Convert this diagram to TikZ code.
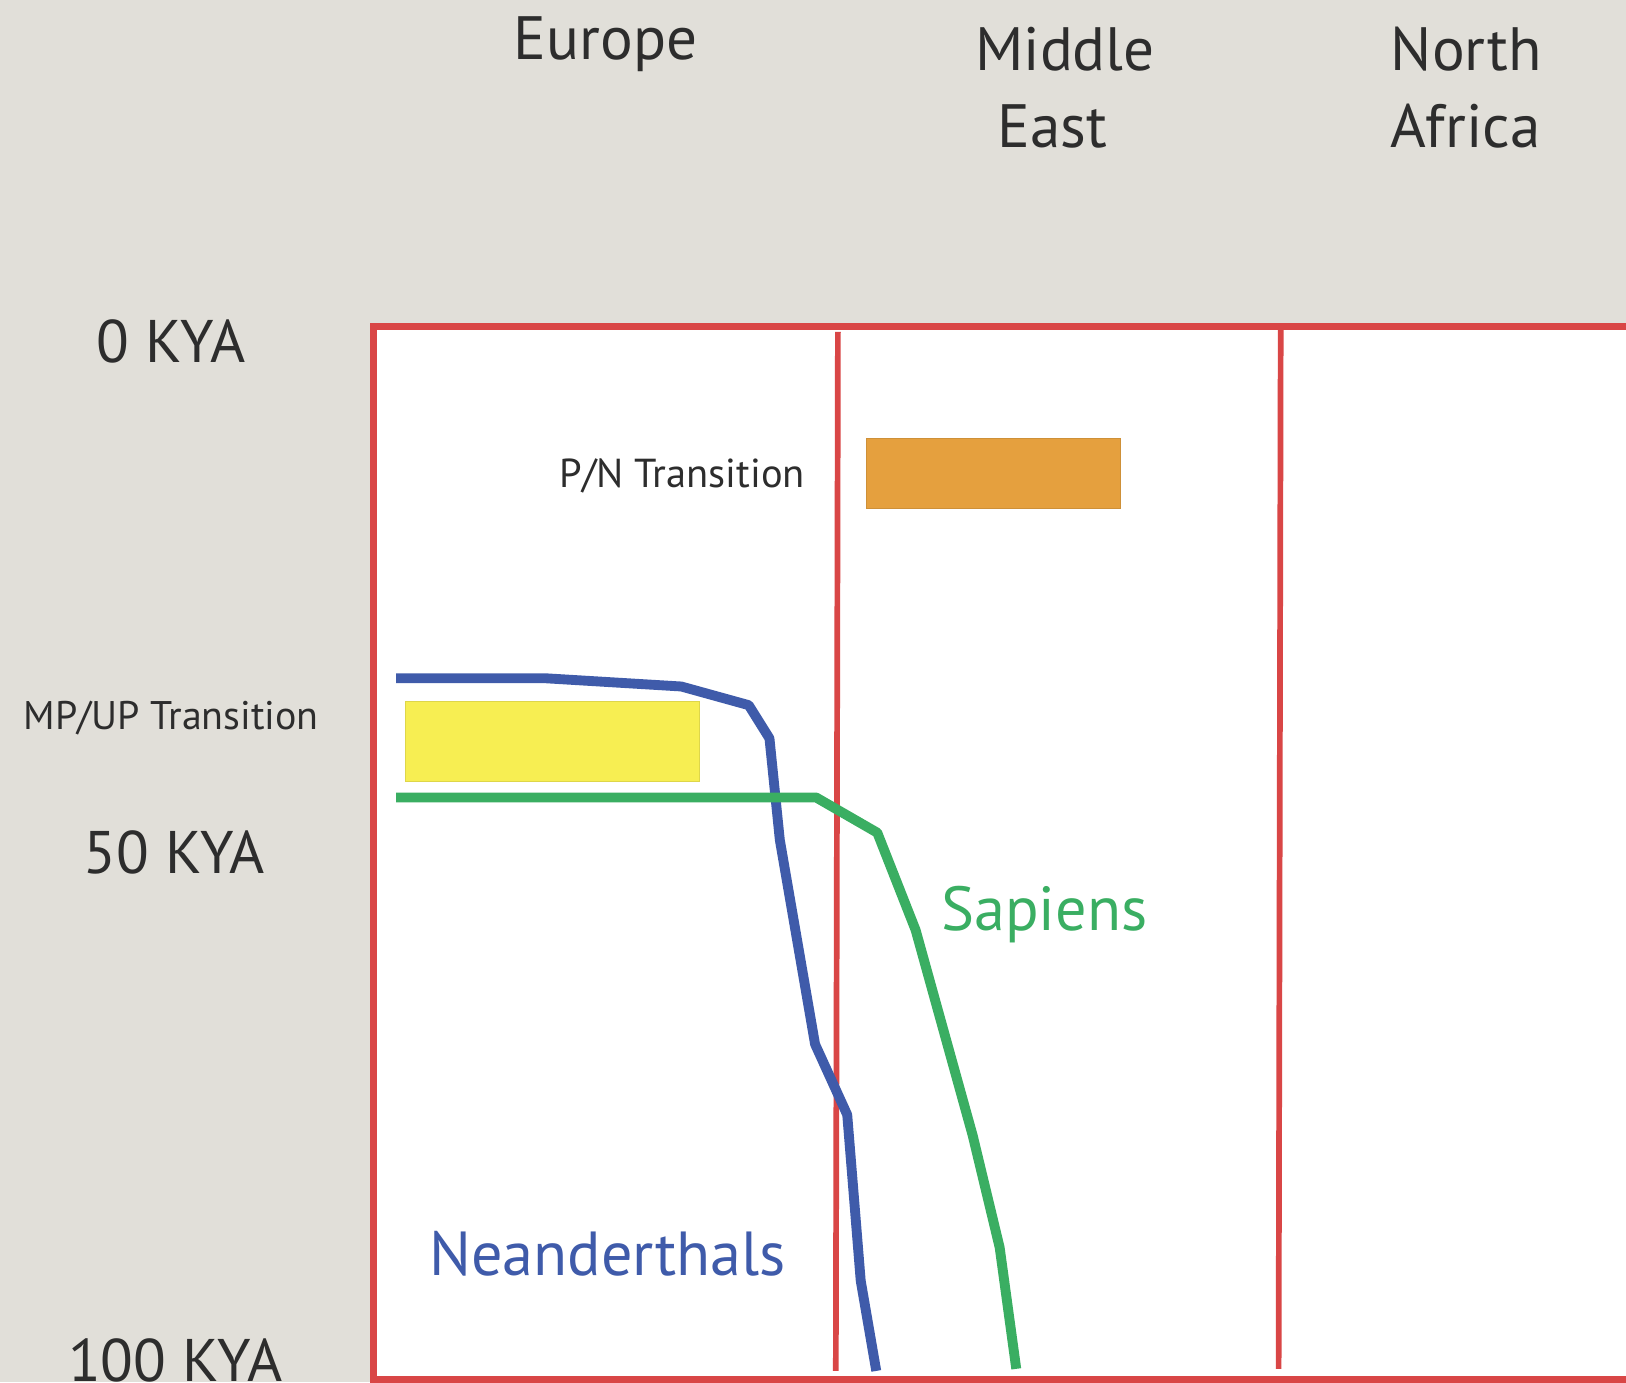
\documentclass[tikz,border=0pt]{standalone}
\usepackage{fontspec}
\setmainfont{PT Sans}
\definecolor{bg}{RGB}{225,223,217}
\definecolor{frame}{RGB}{217,70,70}
\definecolor{txt}{RGB}{45,45,45}
\definecolor{orng}{RGB}{229,160,62}
\definecolor{yell}{RGB}{247,238,82}
\definecolor{neand}{RGB}{63,91,170}
\definecolor{sap}{RGB}{58,174,98}
\begin{document}
\begin{tikzpicture}[x=1pt,y=-1pt,
  lbl/.style={anchor=base,inner sep=0pt,text=txt},
  big/.style={lbl,font=\fontsize{59}{62}\selectfont},
  kya/.style={lbl,font=\fontsize{58}{62}\selectfont},
  small/.style={lbl,font=\fontsize{38.5}{42}\selectfont},
  divider/.style={draw=frame,line width=5.5pt},
  curve/.style={line width=9.5pt,line join=round}]
\useasboundingbox (0,0) rectangle (1568,1333);
\clip (0,0) rectangle (1568,1333);
\fill[bg] (0,0) rectangle (1568,1333);
% frame
\draw[frame,fill=white,line width=7pt] (360,315) rectangle (1600,1330);
\coordinate (d1t) at (808,320); \coordinate (d1b) at (806,1322);
\coordinate (d2t) at (1235,318); \coordinate (d2b) at (1233,1320);
\draw[divider] (d1t) -- (d1b);
\draw[divider] (d2t) -- (d2b);
% boxes
\node[fill=orng,draw=orng!90!black,line width=0.8pt,minimum width=245pt,minimum height=68pt,inner sep=0pt,anchor=north west] (pn) at (835,422) {};
\node[fill=yell,draw=yell!90!black,line width=0.8pt,minimum width=283pt,minimum height=77pt,inner sep=0pt,anchor=north west] (mpup) at (391,676) {};
% curves
\draw[curve,neand] (382,654) -- (525,654) -- (657,662) -- (722,680) -- (742,712) -- (752,810) -- (786,1007) -- (817,1075) -- (830,1235) -- (845,1322);
\draw[curve,sap] (382,769) -- (787,769) -- (846,803) -- (883,897) -- (938,1095) -- (964,1203) -- (980,1320);
% labels
\node[big] (eu) at (584,57) {Europe};
\node[big] (me1) at (1027,68) {Middle};
\node[big] (me2) at (1015,142) {East};
\node[big] (na1) at (1414,68) {North};
\node[big] (na2) at (1413,142) {Africa};
\node[kya] (k0) at (165,350) {0 KYA};
\node[kya] (k50) at (168,842) {50 KYA};
\node[kya] (k100) at (169,1332) {100 KYA};
\node[small] (mpl) at (165,703) {MP/UP Transition};
\node[small,font=\fontsize{39}{42}\selectfont] (pnl) at (658,470) {P/N Transition};
\node[lbl,text=sap,font=\fontsize{60}{64}\selectfont] (sl) at (1007,897) {Sapiens};
\node[lbl,text=neand,font=\fontsize{60}{64}\selectfont] (nl) at (586,1230) {Neanderthals};
\end{tikzpicture}
\end{document}
